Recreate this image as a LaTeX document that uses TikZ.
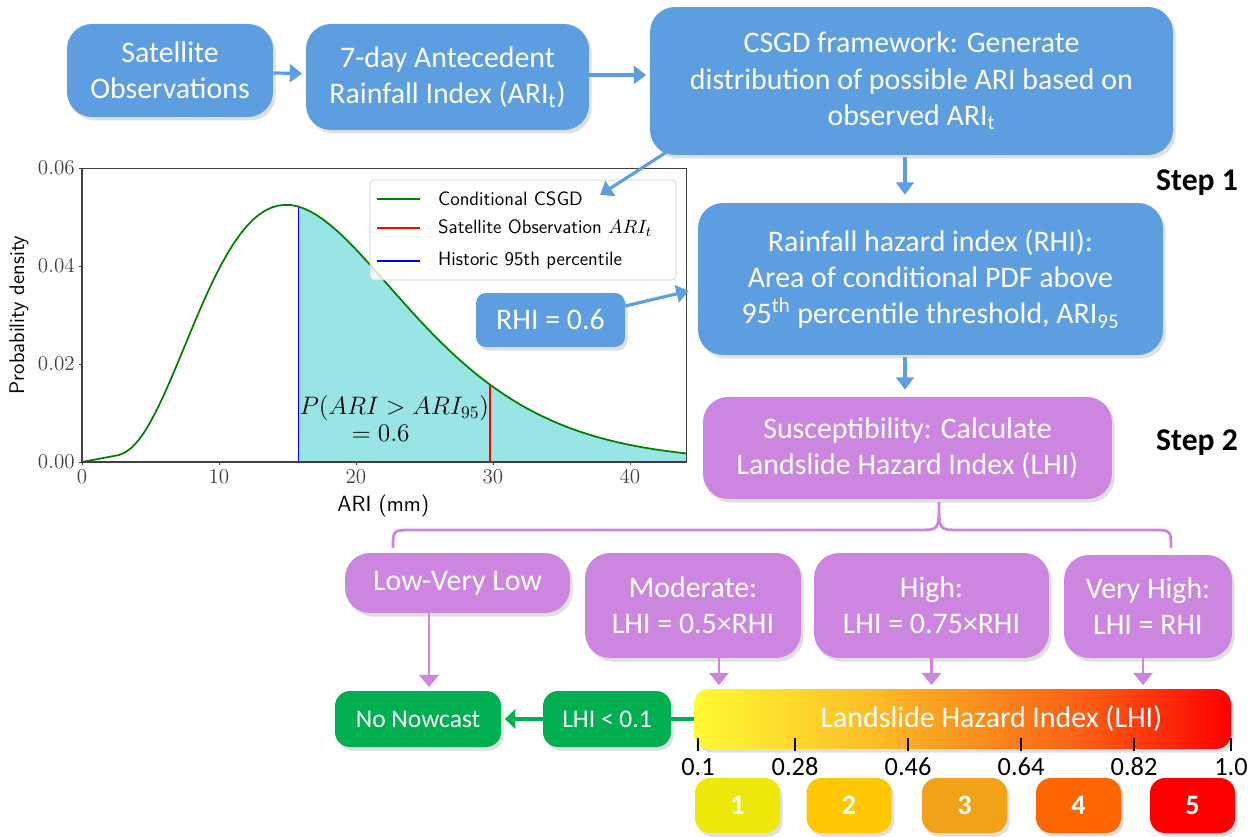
\documentclass[tikz,border=0pt]{standalone}
\usepackage{fontspec}
\newfontfamily\carlito{Carlito}
\usetikzlibrary{arrows.meta,shadows}

\definecolor{boxblue}{RGB}{93,158,225}
\definecolor{boxpurple}{RGB}{205,134,223}
\definecolor{boxgreen}{RGB}{0,176,80}
\definecolor{pdfcyan}{RGB}{153,229,229}
\definecolor{lvlone}{RGB}{238,232,10}
\definecolor{lvltwo}{RGB}{255,200,0}
\definecolor{lvlthree}{RGB}{242,162,25}
\definecolor{lvlfour}{RGB}{255,102,0}
\definecolor{lvlfive}{RGB}{255,0,0}
\definecolor{barA}{RGB}{255,250,50}
\definecolor{barB}{RGB}{253,195,40}
\definecolor{barC}{RGB}{250,150,30}
\definecolor{barD}{RGB}{252,90,20}
\definecolor{barE}{RGB}{255,0,0}
\pgfdeclarehorizontalshading{lhishade}{100bp}{color(0bp)=(barA); color(25bp)=(barA);
  color(40bp)=(barB); color(50bp)=(barC); color(62bp)=(barD); color(75bp)=(barE); color(100bp)=(barE)}

\begin{document}
\begin{tikzpicture}[x=0.02cm, y=0.02cm,
    box/.style={rounded corners=0.5cm, text=white, align=center, inner sep=2pt,
      font=\carlito\fontsize{17}{20.5}\selectfont,
      drop shadow={shadow xshift=1.5pt, shadow yshift=-2pt, opacity=0.25}},
    bluebox/.style={box, fill=boxblue},
    purplebox/.style={box, fill=boxpurple},
    greenbox/.style={box, fill=boxgreen, rounded corners=0.3cm, font=\carlito\fontsize{14.5}{17}\selectfont},
    levelbox/.style={box, rounded corners=0.3cm, minimum width=1.7cm, minimum height=1.1cm,
      font=\carlito\bfseries\fontsize{16}{18}\selectfont},
    bluearrow/.style={draw=boxblue, line width=1.8pt, -{Triangle[length=7pt,width=10pt]}},
    purplearrow/.style={draw=boxpurple, line width=1.6pt, -{Triangle[length=7pt,width=11pt]}},
    greenarrow/.style={draw=boxgreen, line width=2.6pt, -{Triangle[length=6pt,width=11pt]}},
    steplabel/.style={font=\carlito\bfseries\fontsize{18}{20}\selectfont},
    scalelabel/.style={font=\carlito\fontsize{15}{16}\selectfont},
    legendtext/.style={anchor=west, font=\sffamily\fontsize{11}{12}\selectfont},
  ]
  \useasboundingbox (0,0) rectangle (1253,-837);

  % conditional pdf plot
  \begin{scope}[shift={(82,-462)}, x=0.274cm, y=0.98cm,
      declare function={csgd(\x)=5.25*exp(3.5*ln((\x-1)/13.9)+(14.9-\x)/3.97)+0.07*exp(2.7-\x);}]
    \fill[pdfcyan] (15.8,0) -- plot[domain=15.8:44.1, samples=60] (\x,{csgd(\x)}) -- (44.1,0) -- cycle;
    \draw[blue, line width=0.9pt] (15.8,0) -- (15.8,{csgd(15.8)});
    \draw[red, line width=0.9pt] (29.8,0) -- (29.8,{csgd(29.8)});
    \draw[green!50!black, line width=1pt] (0,0) -- (2.7,{csgd(2.7)}) -- plot[domain=2.7:44.1, samples=90] (\x,{csgd(\x)});
    \draw[black!75, line width=0.6pt] (0,0) rectangle (44.1,6);
    \foreach \t in {0,10,...,40}
      \draw[black!75] (\t,0) -- ++(0,-0.07) node[below, font=\fontsize{12}{13}\selectfont, inner sep=2pt] (xt\t) {\t};
    \foreach \t/\l in {0/0.00, 2/0.02, 4/0.04, 6/0.06}
      \draw[black!75] (0,\t) -- ++(-0.25,0) node[left, font=\fontsize{12}{13}\selectfont, inner sep=2pt] (yt\t) {\l};
    \node[rotate=90, font=\sffamily\fontsize{12}{13}\selectfont] (ylab) at (-4.6,3) {Probability density};
    \node[font=\sffamily\fontsize{12.5}{13}\selectfont] (xlab) at (22,-0.9) {ARI (mm)};
    \node[font=\fontsize{14.5}{15}\selectfont] (prob) at (22.8,1.1) {$P(ARI > ARI_{95})$};
    \node[font=\fontsize{14.5}{15}\selectfont] (probval) at (21.8,0.59) {$= 0.6$};
  \end{scope}

  % legend
  \node[draw=black!20, fill=white, fill opacity=0.8, rounded corners=2pt, minimum width=6.12cm, minimum height=2cm] (legend) at (523,-230) {};
  \foreach \yy/\col/\txt in {199/green!50!black/Conditional CSGD, 228/red/Satellite Observation $ARI_t$, 261/blue/Historic 95th percentile} {
    \draw[\col, line width=0.9pt] (377,-\yy) -- (420,-\yy);
    \node[legendtext] (leg\yy) at (432,-\yy) {\txt};
  }

  % step 1: rainfall
  \node[bluebox, minimum width=4.12cm, minimum height=1.86cm] (sat) at (170,-70.5) {Satellite\\Observations};
  \node[bluebox, minimum width=5.66cm, minimum height=2.12cm] (ari) at (447.5,-77) {7-day Antecedent\\Rainfall Index (ARI\textsubscript{t})};
  \node[bluebox, minimum width=10.46cm, minimum height=2.96cm] (csgd) at (911.5,-81) {CSGD framework: Generate\\distribution of possible ARI based on\\observed ARI\textsubscript{t}};
  \node[bluebox, minimum width=9.3cm, minimum height=3.04cm] (rhi) at (930.5,-279) {Rainfall hazard index (RHI):\\Area of conditional PDF above\\95\textsuperscript{th} percentile threshold, ARI\textsubscript{95}};
  \node[bluebox, rounded corners=0.2cm, minimum width=2.98cm, minimum height=1.08cm] (rhival) at (550.5,-320) {RHI = 0.6};
  \node[steplabel] (step1) at (1197,-183) {Step 1};

  % step 2: susceptibility
  \node[purplebox, minimum width=8.18cm, minimum height=2.04cm] (susc) at (907.5,-448) {Susceptibility: Calculate\\Landslide Hazard Index (LHI)};
  \node[steplabel] (step2) at (1197,-443) {Step 2};
  \node[purplebox, minimum width=4.5cm, minimum height=1.2cm] (low) at (457.5,-583) {Low-Very Low};
  \node[purplebox, minimum width=4.32cm, minimum height=2.1cm] (mod) at (693,-605.5) {Moderate:\\LHI = 0.5×RHI};
  \node[purplebox, minimum width=4.7cm, minimum height=2.1cm] (high) at (931.5,-605.5) {High:\\LHI = 0.75×RHI};
  \node[purplebox, minimum width=3.36cm, minimum height=2.06cm] (vhigh) at (1148,-606.5) {Very High:\\LHI = RHI};

  % hazard index
  \node[greenbox, minimum width=3.32cm, minimum height=1.12cm] (nonow) at (418,-719) {No Nowcast};
  \node[greenbox, minimum width=2.56cm, minimum height=1.12cm] (lhilow) at (607,-719) {LHI < 0.1};
  \node[box, shading=lhishade, rounded corners=0.3cm, minimum width=10.74cm, minimum height=1.2cm] (bar) at (962.5,-719) {\hspace*{1.16cm}Landslide Hazard Index (LHI)};
  \foreach \tx/\tl in {698/0.1, 795/0.28, 908/0.46, 1021/0.64, 1134/0.82, 1231/1.0} {
    \draw[line width=1.4pt] (\tx,-738) -- (\tx,-751);
    \node[scalelabel] (tick\tl) at (\tx,-767) {\tl};
  }
  \foreach \i/\cx/\col in {1/737.5/lvlone, 2/849/lvltwo, 3/964.5/lvlthree, 4/1078.5/lvlfour, 5/1192.5/lvlfive}
    \node[levelbox, fill=\col] (lvl\i) at (\cx,-805.5) {\i};

  % connectors
  \draw[bluearrow, shorten >=2pt] (sat) -- (ari);
  \draw[bluearrow, shorten >=2pt] (ari.east |- 0,-75) -- (csgd.west |- 0,-75);
  \coordinate (legtip) at (600,-195);
  \draw[bluearrow] ([shift={(18,4)}]csgd.south west) -- (legtip);
  \draw[bluearrow, shorten <=1pt, shorten >=4.5pt] (csgd.south -| 905,0) -- (rhi.north -| 905,0);
  \draw[bluearrow] ([yshift=0.28cm]rhival.east) -- ([shift={(-9,-12)}]rhi.west);
  \draw[bluearrow, shorten <=1pt, shorten >=4pt] (rhi.south -| 905,0) -- (susc.north -| 905,0);
  \draw[boxpurple, line width=1.6pt] (393,-548) .. controls (393,-530) .. (413,-530) -- (919,-530)
    .. controls (939,-530) .. (939,-502) .. controls (939,-530) .. (959,-530) -- (1151,-530)
    .. controls (1171,-530) .. (1171,-548);
  \draw[purplearrow, shorten >=2pt] (low.south -| 429,0) -- (nonow.north -| 429,0);
  \draw[purplearrow, shorten >=2pt] ([xshift=0.52cm]mod.south) -- ([xshift=0.52cm]mod.south |- bar.north);
  \draw[purplearrow, shorten >=2pt] (high.south) -- (high.south |- bar.north);
  \draw[purplearrow, shorten >=2pt] ([xshift=-0.1cm]vhigh.south) -- ([xshift=-0.1cm]vhigh.south |- bar.north);
  \draw[greenarrow, shorten >=2pt] (lhilow) -- (nonow);
  \draw[boxgreen, line width=2.6pt] (lhilow) -- (bar);
\end{tikzpicture}
\end{document}
